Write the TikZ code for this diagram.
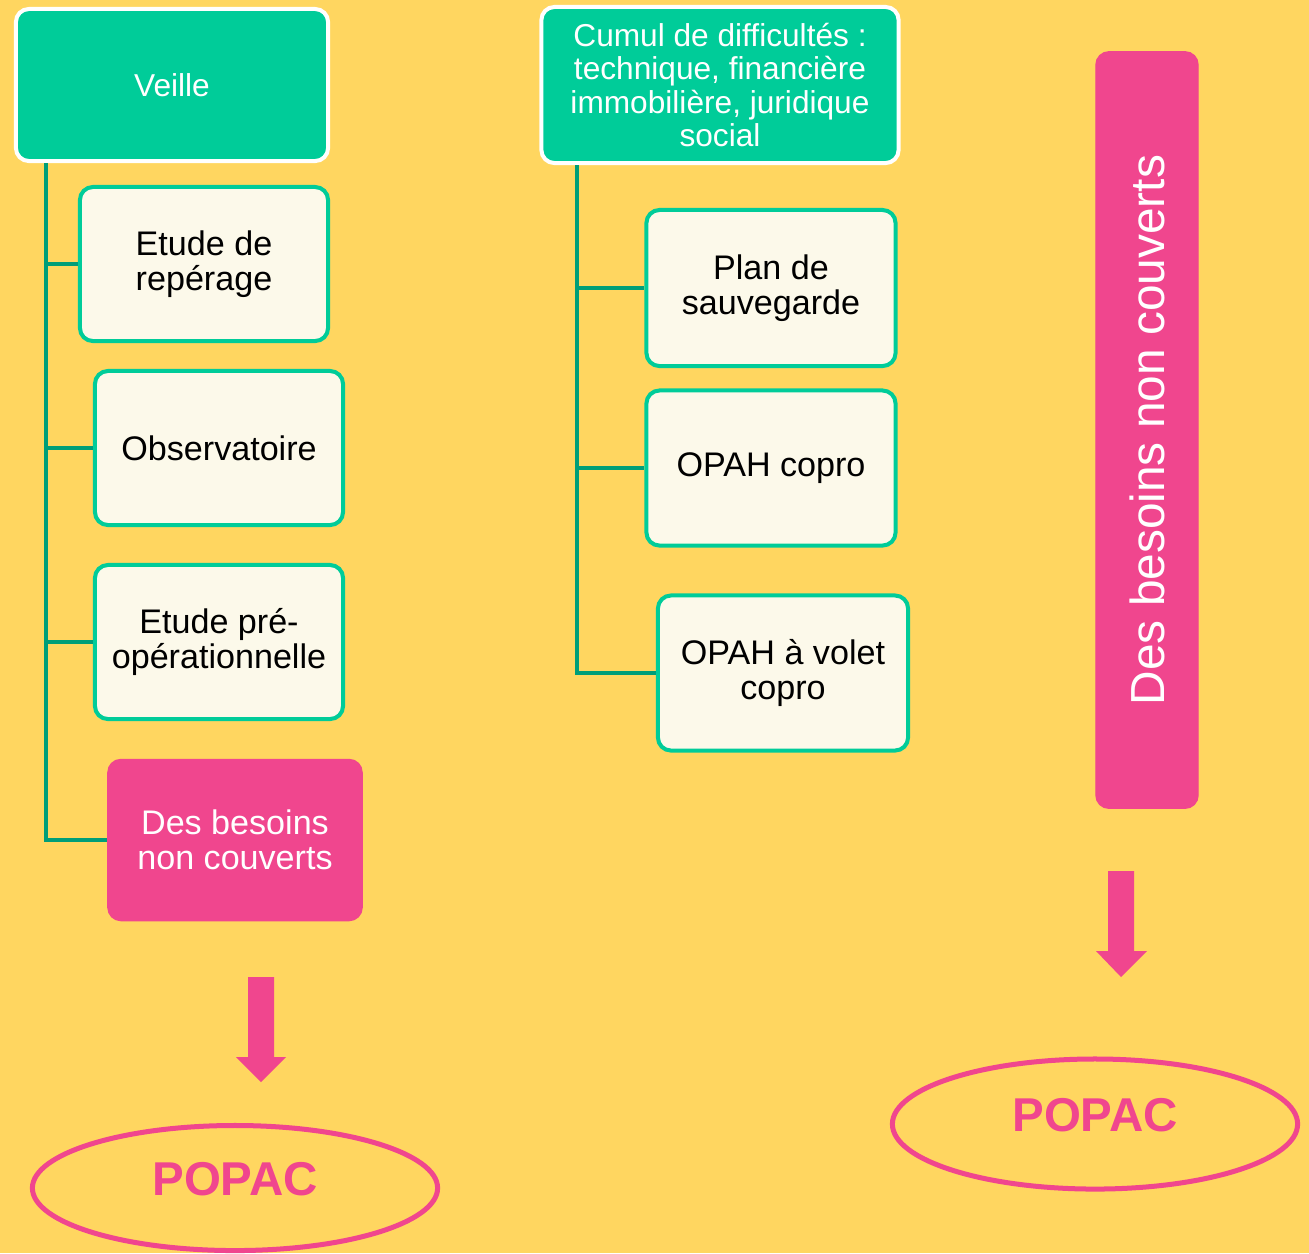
\documentclass[tikz,border=0pt]{standalone}
\usepackage{fontspec}
\setmainfont{Liberation Sans}
\usetikzlibrary{shapes.geometric}
\definecolor{fond}{RGB}{255,214,96}
\definecolor{vert}{RGB}{0,204,153}
\definecolor{trait}{RGB}{0,158,120}
\definecolor{creme}{RGB}{252,249,234}
\definecolor{rose}{RGB}{240,70,142}
\begin{document}
\begin{tikzpicture}[x=0.01cm,y=-0.01cm,
    tete/.style={draw=white,fill=vert,line width=0.04cm,rounded corners=0.13cm,text=white,align=center,
      font=\fontsize{9}{9.4}\selectfont},
    boite/.style={draw=vert,fill=creme,line width=0.04cm,rounded corners=0.13cm,align=center,
      minimum width=2.48cm,minimum height=1.54cm,font=\fontsize{9.7}{10.1}\selectfont},
    besoin/.style={draw=rose,fill=rose,rounded corners=0.13cm,text=white,align=center},
    popac/.style={ellipse,draw=rose,line width=0.05cm,minimum width=4.05cm,text=rose,text depth=0.18cm,
      font=\fontsize{13.5}{15}\selectfont\bfseries},
    branche/.style={draw=trait,line width=0.04cm}]
    \fill[fond] (0,0) rectangle (1309,1253);
    \useasboundingbox (0,0) rectangle (1309,1253);
    %veille
    \node[tete,minimum width=3.12cm,minimum height=1.52cm] (veille) at (172,85) {Veille};
    \node[boite] (reperage) at (204,264) {Etude de\\repérage};
    \node[boite] (observ) at (219,448) {Observatoire};
    \node[boite] (preop) at (219,642) {Etude pré-\\opérationnelle};
    \node[besoin,minimum width=2.54cm,minimum height=1.61cm,font=\fontsize{9.7}{10.1}\selectfont]
      (besoins) at (235,840) {Des besoins\\non couverts};
    %difficultes
    \node[tete,minimum width=3.57cm,minimum height=1.56cm] (cumul) at (720,85)
      {Cumul de difficultés :\\technique, financière\\immobilière, juridique\\social};
    \node[boite,minimum width=2.49cm,minimum height=1.56cm] (plan) at (771,288) {Plan de\\sauvegarde};
    \node[boite,minimum width=2.49cm,minimum height=1.55cm] (opah) at (771,468) {OPAH copro};
    \node[boite,minimum width=2.50cm,minimum height=1.55cm] (volet) at (783,673) {OPAH à volet\\copro};
    %colonne de droite
    \node[besoin,minimum width=7.56cm,minimum height=1.02cm,rotate=90,font=\fontsize{13.6}{15}\selectfont]
      (besoinsd) at (1147,430) {Des besoins non couverts};
    %edges
    \coordinate (tg) at ([xshift=0.32cm]veille.south west);
    \coordinate (td) at ([xshift=0.38cm]cumul.south west);
    \draw[branche] (tg) |- (besoins.west);
    \draw[branche] (tg |- reperage.west) -- (reperage.west);
    \draw[branche] (tg |- observ.west) -- (observ.west);
    \draw[branche] (tg |- preop.west) -- (preop.west);
    \draw[branche] (td) |- (volet.west);
    \draw[branche] (td |- plan.west) -- (plan.west);
    \draw[branche] (td |- opah.west) -- (opah.west);
    %fleches
    \fill[rose] (248,977) -- (274,977) -- (274,1057) -- (286,1057) -- (261,1082) -- (236,1057) -- (248,1057) -- cycle;
    \fill[rose] (1108,871) -- (1134,871) -- (1134,951) -- (1147,951) -- (1121,977) -- (1096,951) -- (1108,951) -- cycle;
    %popac
    \node[popac,minimum height=1.25cm] (popacg) at (235,1188) {POPAC};
    \node[popac,minimum height=1.30cm] (popacd) at (1095,1124) {POPAC};
\end{tikzpicture}
\end{document}
